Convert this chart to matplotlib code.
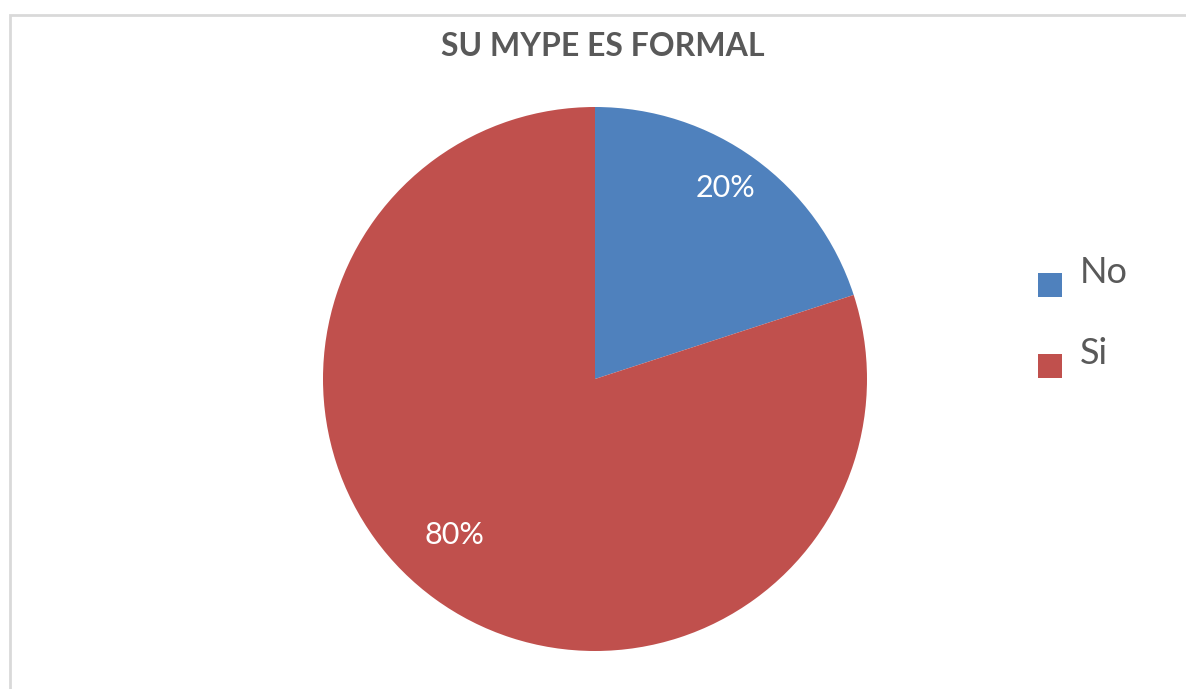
import matplotlib
matplotlib.use("Agg")
import matplotlib.pyplot as plt
from matplotlib.patches import Rectangle
import numpy as np

categories = ["No", "Si"]
values = [20, 80]
pct_labels = ["20%", "80%"]
colors = ["#4F81BD", "#C0504D"]
title = "SU MYPE ES FORMAL"

W, H = 1186, 689
fig = plt.figure(figsize=(W / 100, H / 100), dpi=100)
fig.patch.set_facecolor("white")

# chart border (only left and top visible in reference)
fig.patches.append(Rectangle((10 / W, -0.05), 1.2, (H - 15) / H + 0.05, transform=fig.transFigure,
                             fill=False, edgecolor="#D9D9D9", linewidth=2, zorder=0))

cx, cy, r = 595, 379, 272
ax = fig.add_axes([(cx - r) / W, (H - cy - r) / H, 2 * r / W, 2 * r / H])
wedges, _ = ax.pie(values, colors=colors, startangle=90, counterclock=False, radius=1,
                   wedgeprops=dict(linewidth=0))
ax.set_xlim(-1, 1)
ax.set_ylim(-1, 1)
ax.set_aspect("equal")
ax.axis("off")

dists = [0.85, 0.77]
angle_shift = [1.5, -6]
for w, lab, d, s in zip(wedges, pct_labels, dists, angle_shift):
    ang = np.deg2rad((w.theta1 + w.theta2) / 2 + s)
    ax.text(d * np.cos(ang), d * np.sin(ang), lab, ha="center", va="center",
            color="white", fontsize=22, family="Lato")

fig.text(603 / W, 1 - 47 / H, title, ha="center", va="center", fontsize=23,
         fontweight="bold", color="#595959", family="Lato")

# legend (manual layout to match reference)
sq = 24
for i, (cat, c) in enumerate(zip(categories, colors)):
    top = 273 + i * 81
    fig.patches.append(Rectangle((1038 / W, 1 - (top + sq) / H), sq / W, sq / H,
                                 transform=fig.transFigure, facecolor=c, edgecolor="none"))
    fig.text(1080 / W, 1 - (283 + i * 81) / H, cat, ha="left", va="baseline",
             fontsize=26, color="#595959", family="Lato")

fig.savefig("out.png", dpi=100, facecolor="white")
